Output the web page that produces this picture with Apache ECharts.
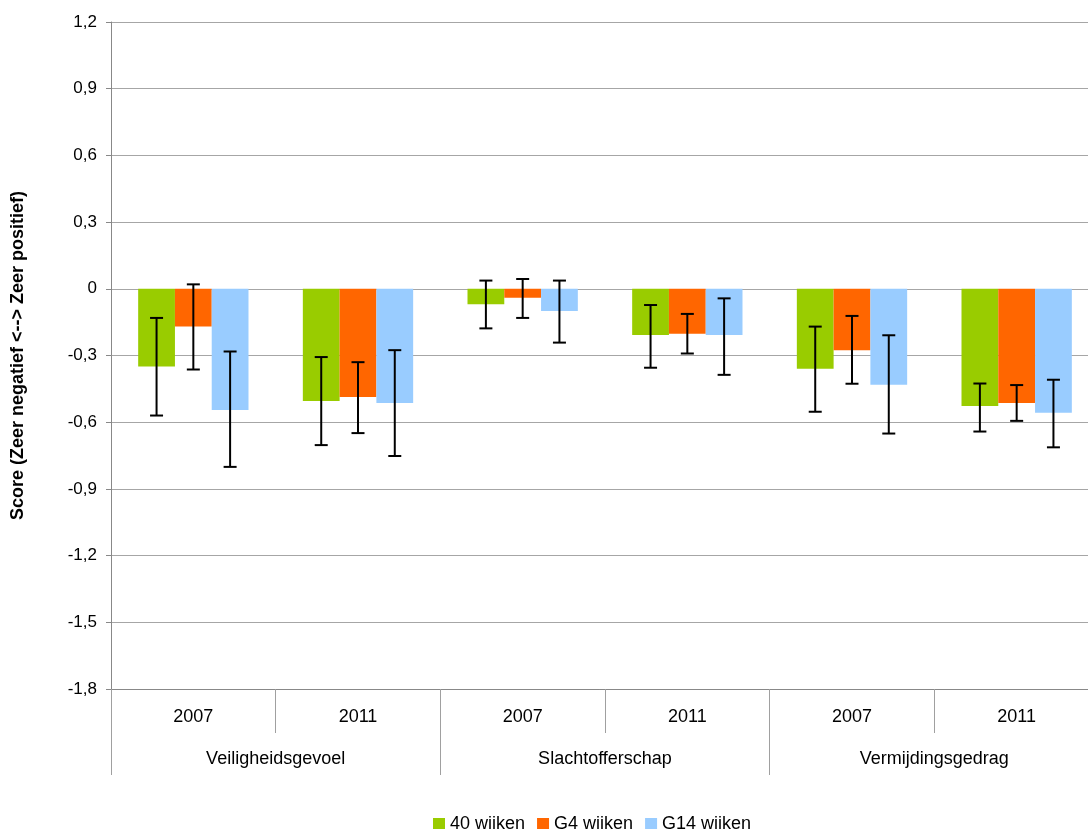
<!DOCTYPE html>
<html>
<head>
<meta charset="utf-8">
<script src="https://cdn.jsdelivr.net/npm/echarts@6/dist/echarts.min.js"></script>
<style>
html,body{margin:0;padding:0;background:#fff;}
#c{width:1088px;height:829px;}
</style>
</head>
<body>
<div id="c"></div>
<script>
const years = ['2007', '2011', '2007', '2011', '2007', '2011'];
const groups = ['Veiligheidsgevoel', 'Slachtofferschap', 'Vermijdingsgedrag'];
const seriesNames = ['40 wijken', 'G4 wijken', 'G14 wijken'];

const green = [-0.35, -0.505, -0.07, -0.208, -0.36, -0.527];
const orange = [-0.17, -0.487, -0.04, -0.202, -0.276, -0.514];
const blue = [-0.545, -0.514, -0.10, -0.208, -0.432, -0.558];

const greenLow = [-0.57, -0.703, -0.178, -0.355, -0.553, -0.642];
const greenHigh = [-0.131, -0.307, 0.037, -0.073, -0.17, -0.426];
const orangeLow = [-0.363, -0.649, -0.131, -0.291, -0.427, -0.594];
const orangeHigh = [0.02, -0.33, 0.044, -0.113, -0.122, -0.433];
const blueLow = [-0.801, -0.752, -0.242, -0.387, -0.651, -0.713];
const blueHigh = [-0.282, -0.276, 0.037, -0.043, -0.209, -0.409];

const colors = ['#99CC00', '#FF6600', '#99CCFF'];
const gapPct = 0.33;

function errSeries(low, high, slot) {
  return {
    type: 'custom',
    xAxisIndex: 0,
    yAxisIndex: 0,
    z: 10,
    silent: true,
    encode: { x: 0, y: [1, 2] },
    data: low.map((l, i) => [i, l, high[i]]),
    renderItem: function (params, api) {
      const idx = api.value(0);
      const bw = api.size([1, 0])[0] * (1 - gapPct) / 3;
      const cx = api.coord([idx, 0])[0] + slot * bw;
      const yl = api.coord([idx, api.value(1)])[1];
      const yh = api.coord([idx, api.value(2)])[1];
      const hw = 6.5;
      const st = { stroke: '#000', lineWidth: 2 };
      return {
        type: 'group',
        children: [
          { type: 'line', shape: { x1: cx, y1: yl, x2: cx, y2: yh }, style: st },
          { type: 'line', shape: { x1: cx - hw, y1: yl, x2: cx + hw, y2: yl }, style: st },
          { type: 'line', shape: { x1: cx - hw, y1: yh, x2: cx + hw, y2: yh }, style: st }
        ]
      };
    }
  };
}

const font = 'Liberation Sans, Arial, sans-serif';
const chart = echarts.init(document.getElementById('c'), null, { renderer: 'canvas' });
chart.setOption({
  animation: false,
  textStyle: { fontFamily: font },
  grid: { left: 111, top: 22, width: 988, height: 667, containLabel: false, outerBoundsMode: 'none' },
  legend: {
    data: seriesNames,
    top: 810,
    left: 428,
    icon: 'rect',
    itemWidth: 12,
    itemHeight: 12,
    itemGap: 12,
    textStyle: { fontSize: 18, color: '#000', fontFamily: font }
  },
  xAxis: [
    {
      type: 'category',
      data: years,
      position: 'bottom',
      axisLine: { show: true, onZero: false, lineStyle: { color: '#888', width: 1 } },
      axisTick: { show: true, interval: 0, length: 44, lineStyle: { color: '#a0a0a0' } },
      axisLabel: { interval: 0, margin: 19, fontSize: 18, color: '#000', fontFamily: font },
      splitLine: { show: false }
    },
    {
      type: 'category',
      data: groups,
      position: 'bottom',
      axisLine: { show: false, onZero: false },
      axisTick: { show: true, interval: 0, length: 86, lineStyle: { color: '#a0a0a0' } },
      axisLabel: { interval: 0, margin: 61, fontSize: 18, color: '#000', fontFamily: font },
      splitLine: { show: false }
    }
  ],
  yAxis: {
    type: 'value',
    min: -1.8,
    max: 1.2,
    interval: 0.3,
    name: 'Score (Zeer negatief <--> Zeer positief)',
    nameLocation: 'middle',
    nameGap: 84,
    nameTextStyle: { fontSize: 18, fontWeight: 'bold', color: '#000', fontFamily: font },
    axisLine: { show: true, lineStyle: { color: '#888' } },
    axisTick: { show: true, length: 5, lineStyle: { color: '#888' } },
    axisLabel: {
      margin: 14,
      fontSize: 17,
      color: '#000',
      fontFamily: font,
      formatter: function (v) {
        const r = Math.round(v * 10) / 10;
        if (r === 0) return '0';
        return r.toFixed(1).replace('.', ',');
      }
    },
    splitLine: { show: true, lineStyle: { color: '#a6a6a6', width: 1 } }
  },
  series: [
    { name: seriesNames[0], type: 'bar', data: green, itemStyle: { color: colors[0] }, barGap: '0%', barCategoryGap: '33%' },
    { name: seriesNames[1], type: 'bar', data: orange, itemStyle: { color: colors[1] }, barGap: '0%', barCategoryGap: '33%' },
    { name: seriesNames[2], type: 'bar', data: blue, itemStyle: { color: colors[2] }, barGap: '0%', barCategoryGap: '33%' },
    errSeries(greenLow, greenHigh, -1),
    errSeries(orangeLow, orangeHigh, 0),
    errSeries(blueLow, blueHigh, 1)
  ]
});
</script>
</body>
</html>
